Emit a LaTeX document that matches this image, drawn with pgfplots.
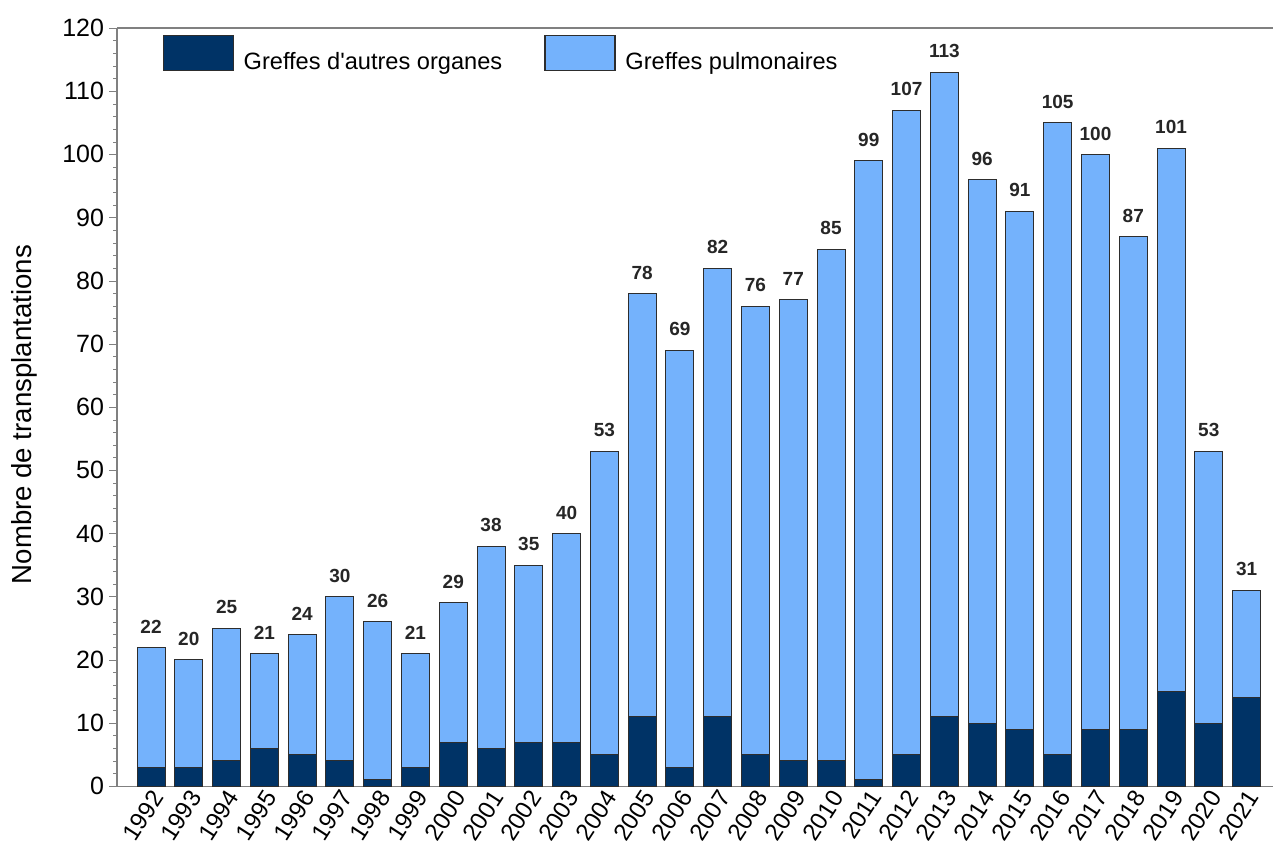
\documentclass[border=0pt]{standalone}
\usepackage{fontspec}
\setmainfont{Liberation Sans}
\usepackage{pgfplots}
\usepackage{pgfplotstable}
\pgfplotsset{compat=1.18}
\definecolor{autres}{RGB}{0,51,102}
\definecolor{pulmo}{RGB}{116,178,252}
\definecolor{axisgray}{RGB}{128,128,128}
\definecolor{bordure}{RGB}{45,45,45}

% annee, autres organes, total (greffes pulmonaires = total - autres)
\pgfplotstableread{
annee autres total
1992 3 22
1993 3 20
1994 4 25
1995 6 21
1996 5 24
1997 4 30
1998 1 26
1999 3 21
2000 7 29
2001 6 38
2002 7 35
2003 7 40
2004 5 53
2005 11 78
2006 3 69
2007 11 82
2008 5 76
2009 4 77
2010 4 85
2011 1 99
2012 5 107
2013 11 113
2014 10 96
2015 9 91
2016 5 105
2017 9 100
2018 9 87
2019 15 101
2020 10 53
2021 14 31
}\data

\begin{document}
\begin{tikzpicture}
\begin{axis}[
  scale only axis,
  width=578pt, height=379pt,
  ybar, bar shift=0pt,
  bar width=0.74,
  xmin=1991.1, xmax=2021.71,
  ymin=0, ymax=120,
  axis x line*=bottom, axis y line*=left,
  axis line style={axisgray, line width=0.6pt},
  xtick=data,
  xticklabel style={rotate=57, anchor=east, font=\fontsize{12}{12}\selectfont, inner sep=1pt, xshift=3.5pt, yshift=-2.5pt},
  x tick label style={/pgf/number format/1000 sep={}},
  major x tick style={draw=none},
  ytick={0,10,...,120},
  minor y tick num=4,
  tick align=outside,
  major tick length=4pt, minor tick length=2pt,
  y tick style={axisgray},
  yticklabel style={font=\fontsize{12.5}{13}\selectfont, xshift=1pt},
  /pgf/number format/assume math mode=true,
  ylabel={Nombre de transplantations},
  ylabel style={font=\fontsize{13.8}{14}\selectfont, at={(rel axis cs:0,0.49)}, anchor=center, yshift=46.5pt},
  legend columns=2,
  reverse legend,
  legend style={draw=none, fill=none, at={(0.039,0.991)}, anchor=north west, inner sep=0pt,
    font=\fontsize{11.8}{12}\selectfont, /tikz/every even column/.append style={column sep=19pt}},
  legend image code/.code={\draw[#1, draw=bordure, line width=0.6pt] (0pt,-4pt) rectangle (35pt,13.5pt); \path (38pt,0pt);},
  clip=false,
]
\addplot[fill=pulmo, draw=bordure, line width=0.5pt,
  nodes near coords, point meta=explicit,
  every node near coord/.append style={font=\fontsize{9.5}{10}\bfseries, anchor=south, yshift=3.5pt, color=black!85}]
  table[x=annee, y=total, meta=total] {\data};
\addlegendentry{Greffes pulmonaires}
\addplot[fill=autres, draw=bordure, line width=0.5pt] table[x=annee, y=autres] {\data};
\addlegendentry{Greffes d\textquotesingle autres organes}
\draw[axisgray, line width=0.6pt] (rel axis cs:0,1) -- (rel axis cs:1,1);
\path (rel axis cs:0,1) ++(-58.5pt,14pt);
\path (rel axis cs:1,0) ++(0pt,-37pt);
\end{axis}
\end{tikzpicture}
\end{document}
